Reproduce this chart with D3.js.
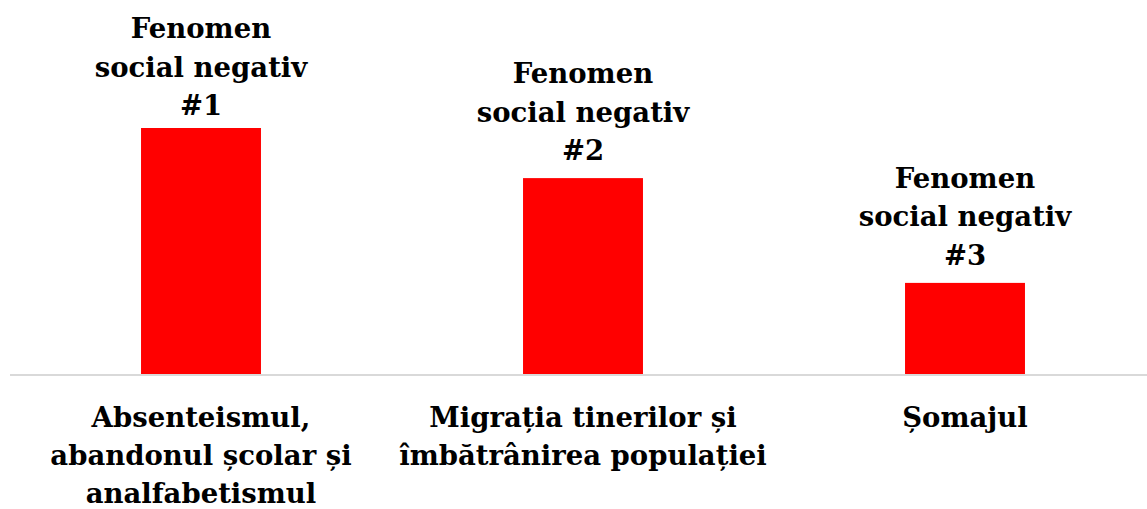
<!DOCTYPE html>
<html>
<head>
<meta charset="utf-8">
<script src="https://cdn.jsdelivr.net/npm/d3@7"></script>
<style>
  body { margin: 0; background: #fff; }
  text { font-family: "DejaVu Serif", serif; font-weight: bold; font-size: 27.5px; fill: #000; }
</style>
</head>
<body>
<svg id="chart" width="1147" height="509"></svg>
<script>
// data
const categories = [
  ["Absenteismul,", "abandonul școlar și", "analfabetismul"],
  ["Migrația tinerilor și", "îmbătrânirea populației"],
  ["Șomajul"]
];
const values = [54, 43, 20];
const barLabels = [
  ["Fenomen", "social negativ", "#1"],
  ["Fenomen", "social negativ", "#2"],
  ["Fenomen", "social negativ", "#3"]
];

let width = 1147;
let height = 509;
let baseline = 374;
let lineH = 38.5;

let svg = d3.select("#chart");

let x = d3.scaleBand()
  .domain(d3.range(values.length))
  .range([10, 1156])
  .paddingInner(0.686)
  .paddingOuter(0.343);

let y = d3.scaleLinear()
  .domain([0, 54])
  .range([baseline, 128]);

// bars
svg.append("g")
  .selectAll("rect")
  .data(values)
  .enter()
  .append("rect")
  .attr("x", (d, i) => x(i))
  .attr("y", d => y(d))
  .attr("width", x.bandwidth())
  .attr("height", d => baseline - y(d))
  .attr("fill", "#ff0000");

// axis line
svg.append("line")
  .attr("x1", 10).attr("x2", width)
  .attr("y1", baseline + 1).attr("y2", baseline + 1)
  .attr("stroke", "#d9d9d9")
  .attr("stroke-width", 2);

// labels above bars (first line kept inside the top edge)
values.forEach(function(v, i) {
  let lines = barLabels[i];
  let last = y(v) - 18;
  let first = Math.max(38, last - lineH * (lines.length - 1));
  let t = svg.append("text")
    .attr("text-anchor", "middle")
    .attr("x", x(i) + x.bandwidth() / 2)
    .attr("y", first);
  lines.forEach(function(s, j) {
    t.append("tspan")
      .attr("x", x(i) + x.bandwidth() / 2)
      .attr("y", first + j * lineH)
      .text(s);
  });
});

// category labels
categories.forEach(function(lines, i) {
  let cx = x(i) + x.bandwidth() / 2;
  let t = svg.append("text").attr("text-anchor", "middle");
  lines.forEach(function(s, j) {
    t.append("tspan")
      .attr("x", cx)
      .attr("y", 427 + j * 38)
      .text(s);
  });
});
</script>
</body>
</html>
